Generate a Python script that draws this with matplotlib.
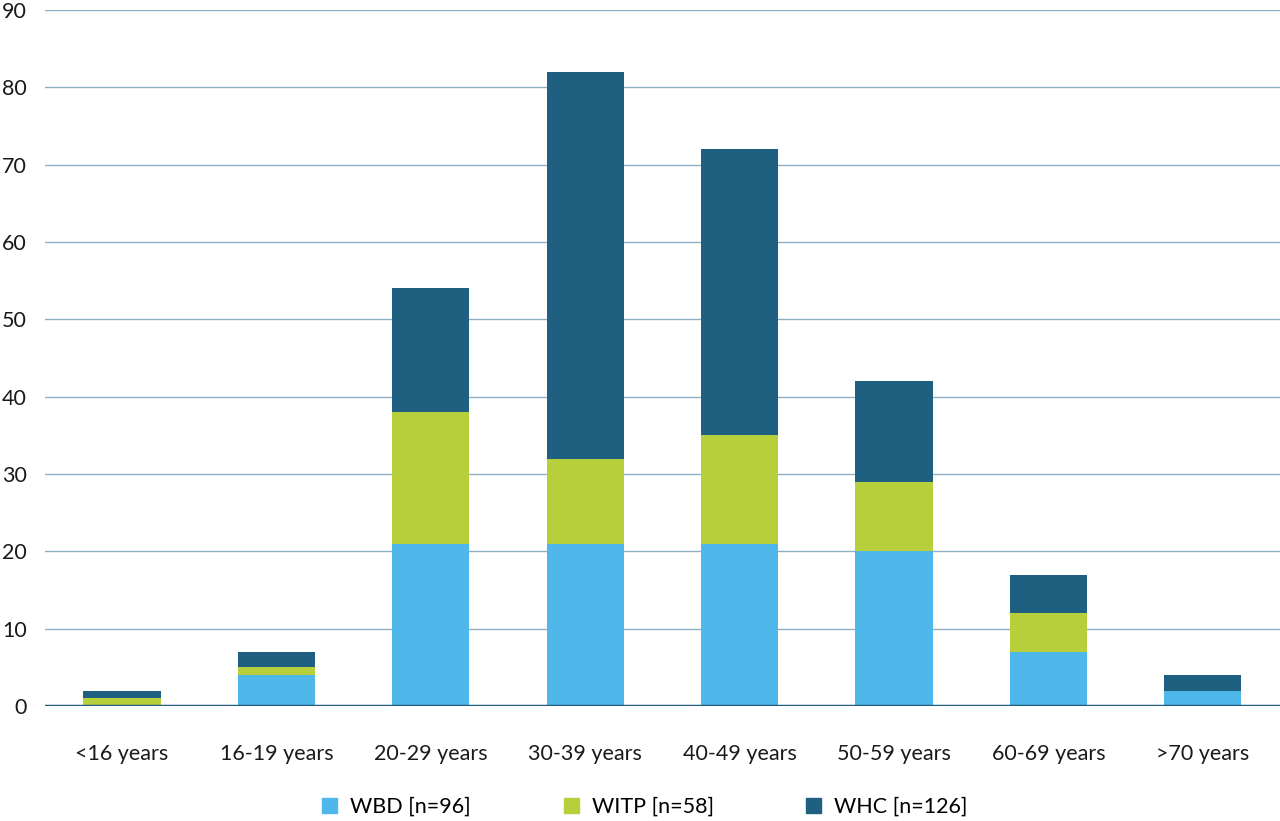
import matplotlib.pyplot as plt
import numpy as np
from matplotlib.patches import Patch

# Datos
categories = ['<16 years', '16-19 years', '20-29 years', '30-39 years',
              '40-49 years', '50-59 years', '60-69 years', '>70 years']
wbd = [0, 4, 21, 21, 21, 20, 7, 2]
witp = [1, 1, 17, 11, 14, 9, 5, 0]
whc = [1, 2, 16, 50, 37, 13, 5, 2]
series_labels = ['WBD [n=96]', 'WITP [n=58]', 'WHC [n=126]']
colors = ['#4fb7e9', '#b7cf3a', '#1f5f7f']

plt.rcParams['font.family'] = ['Lato', 'DejaVu Sans']

fig = plt.figure(figsize=(12.8, 8.21), dpi=100)
ax = fig.add_axes([0.035, 0.14, 0.965, 0.848])

x = np.arange(len(categories))
w = 0.5
bottom = np.zeros(len(categories))
for vals, c in zip([wbd, witp, whc], colors):
    ax.bar(x, vals, w, bottom=bottom, color=c, zorder=3)
    bottom += np.array(vals)

ax.set_xlim(-0.5, len(categories) - 0.5)
ax.set_ylim(0, 90)
ax.set_yticks(range(0, 91, 10))
ax.yaxis.grid(True, color='#8fb0c4', linewidth=1, zorder=0)
ax.axhline(0, color='#1f5f7f', linewidth=2.5, zorder=4)
for s in ax.spines.values():
    s.set_visible(False)
ax.tick_params(axis='both', length=0, labelsize=15.5, colors='#1a1a1a')
ax.tick_params(axis='y', pad=13)
ax.tick_params(axis='x', pad=27)
ax.set_xticks(x)
ax.set_xticklabels(categories)

handles = [Patch(color=c, label=l) for c, l in zip(colors, series_labels)]
fig.legend(handles=handles, loc='center', bbox_to_anchor=(0.504, 1 - 807 / 821),
           ncol=3, frameon=False, fontsize=15.5, handlelength=0.7,
           handleheight=0.7, columnspacing=4.3, handletextpad=0.6)

fig.savefig('out.png', dpi=100)
